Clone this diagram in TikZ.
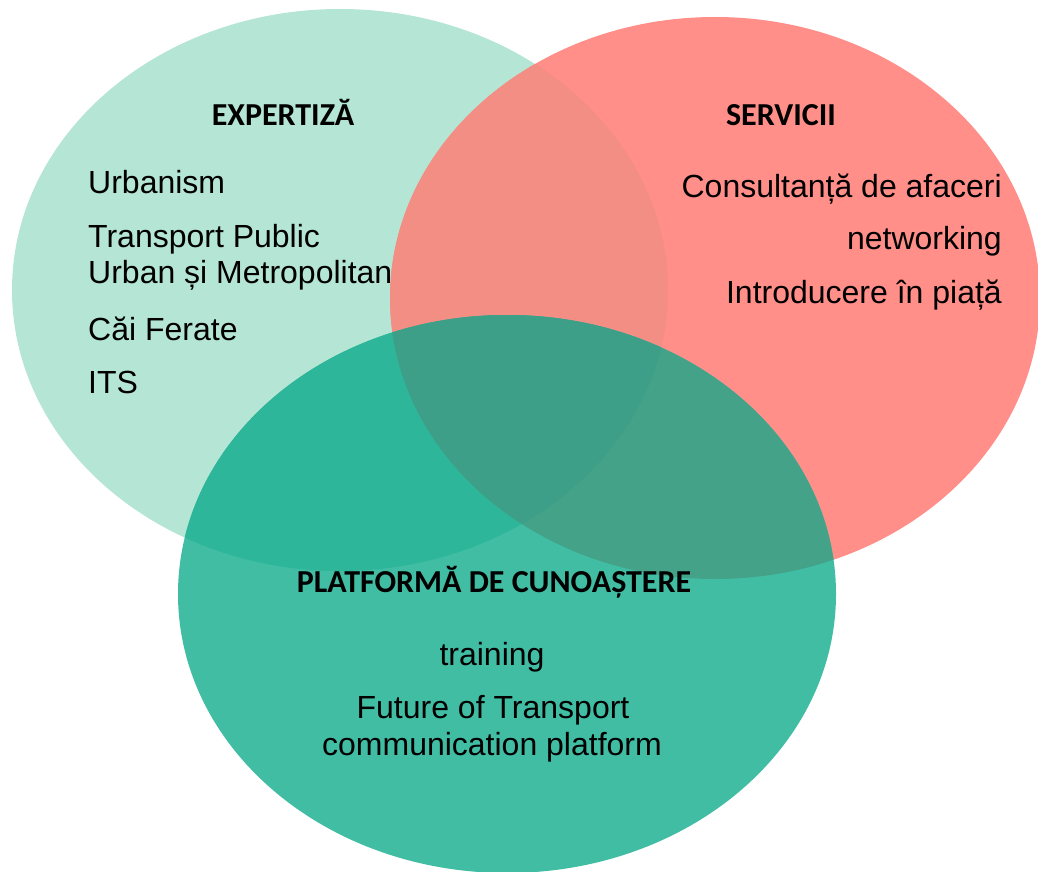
\documentclass[tikz,border=0pt]{standalone}
\usepackage{fontspec}
\setmainfont{Liberation Sans}
\newfontfamily\titlefont{Carlito}
\definecolor{gcol}{HTML}{B5E5D4}
\definecolor{rcol}{HTML}{FF8F88}
\definecolor{tcol}{HTML}{41BDA4}
\definecolor{grcol}{HTML}{F28E84}
\definecolor{gtcol}{HTML}{2DB699}
\definecolor{rtcol}{HTML}{43A287}
\definecolor{allcol}{HTML}{3E9F88}
\begin{document}
\begin{tikzpicture}[x=1pt,y=-1pt,
  body/.style={inner sep=0pt,font=\fontsize{32}{38}\selectfont},
  ttl/.style={inner sep=0pt,font=\titlefont\bfseries\fontsize{32}{38}\selectfont}]
\useasboundingbox (0,0) rectangle (1038,872);
\def\Gell{(340,290) ellipse [x radius=328, y radius=281]}
\def\Rell{(715,298) ellipse [x radius=325, y radius=281]}
\def\Tell{(507,594) ellipse [x radius=329, y radius=279]}
\fill[gcol] \Gell;
\fill[rcol] \Rell;
\fill[tcol] \Tell;
\begin{scope}\clip \Gell; \fill[grcol] \Rell; \end{scope}
\begin{scope}\clip \Gell; \fill[gtcol] \Tell; \end{scope}
\begin{scope}\clip \Rell; \fill[rtcol] \Tell; \end{scope}
\begin{scope}\clip \Gell; \clip \Rell; \fill[allcol] \Tell; \end{scope}
% Expertiza
\node[ttl,anchor=base] (t1) at (283,125) {EXPERTIZĂ};
\node[body,anchor=base west] (e1) at (88,193) {Urbanism};
\node[body,anchor=base west] (e2) at (88,247) {Transport Public};
\node[body,anchor=base west] (e3) at (88,283) {Urban și Metropolitan};
\node[body,anchor=base west] (e4) at (88,340) {Căi Ferate};
\node[body,anchor=base west] (e5) at (88,393) {ITS};
% Servicii
\node[ttl,anchor=base] (t2) at (781,125) {SERVICII};
\node[body,anchor=base east] (s1) at (1002,197) {Consultanță de afaceri};
\node[body,anchor=base east] (s2) at (1002,249) {networking};
\node[body,anchor=base east] (s3) at (1002,303) {Introducere în piață};
% Platforma
\node[ttl,anchor=base] (t3) at (494,592) {PLATFORMĂ DE CUNOAȘTERE};
\node[body,anchor=base] (p1) at (492,665) {training};
\node[body,anchor=base] (p2) at (493,718) {Future of Transport};
\node[body,anchor=base] (p3) at (492,755) {communication platform};
\end{tikzpicture}
\end{document}
